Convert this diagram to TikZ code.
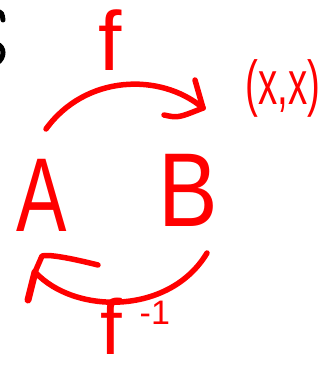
\documentclass[tikz,border=0pt]{standalone}
\usepackage{fontspec}
\setmainfont{Liberation Sans}
\definecolor{ink}{RGB}{255,0,0}
\begin{document}
\begin{tikzpicture}[x=1pt,y=-1pt,
  stroke/.style={draw=ink, line width=5.5pt, line cap=round, line join=round},
  lbl/.style={text=ink, inner sep=0pt}]
\useasboundingbox (0,0) rectangle (334,372);
% cut-off black glyph at the left edge
\draw[black, line width=5pt, line cap=round] (-3,11) .. controls (2,13) .. (3,20);
\draw[black, line width=5pt, line cap=round] (-3,44) .. controls (5,47) and (5,58) .. (-3,63);
% labels
\node[lbl, font=\fontsize{105}{110}\selectfont] (A) at (42,195) {\scalebox{0.72}[1]{A}};
\node[lbl, font=\fontsize{105}{110}\selectfont] (B) at (188,190) {\scalebox{0.85}[1]{B}};
\node[lbl, font=\fontsize{84}{88}\selectfont] (f) at (110,40) {f};
\node[lbl, font=\fontsize{62}{66}\selectfont] (xx) at (283,88) {\scalebox{0.62}[1]{(x,x)}};
\node[lbl, font=\fontsize{78}{82}\selectfont] (finv) at (135,326) {f\hspace{18pt}{\fontsize{34}{34}\selectfont\raisebox{30pt}{-1}}};
% top arrow f : A -> B
\coordinate (t0) at (46,129);
\coordinate (t1) at (203,108);
\coordinate (tb1) at (195,80);
\coordinate (tb2) at (164,115);
\draw[stroke] (t0) .. controls (85,75) and (160,72) .. (t1);
\draw[stroke] (tb1) -- (t1);
\draw[stroke] (tb2) .. controls (178,118) .. (t1);
% bottom arrow f^{-1} : B -> A
\coordinate (b0) at (207,253);
\coordinate (b1) at (35,272);
\coordinate (bb1) at (98,265);
\coordinate (bb2) at (28,300);
\draw[stroke] (b0) .. controls (170,315) and (75,315) .. (b1);
\draw[stroke] (bb1) .. controls (70,258) and (48,254) .. (42,256) -- (b1);
\draw[stroke, line width=7pt] (b1) -- (bb2);
\end{tikzpicture}
\end{document}
